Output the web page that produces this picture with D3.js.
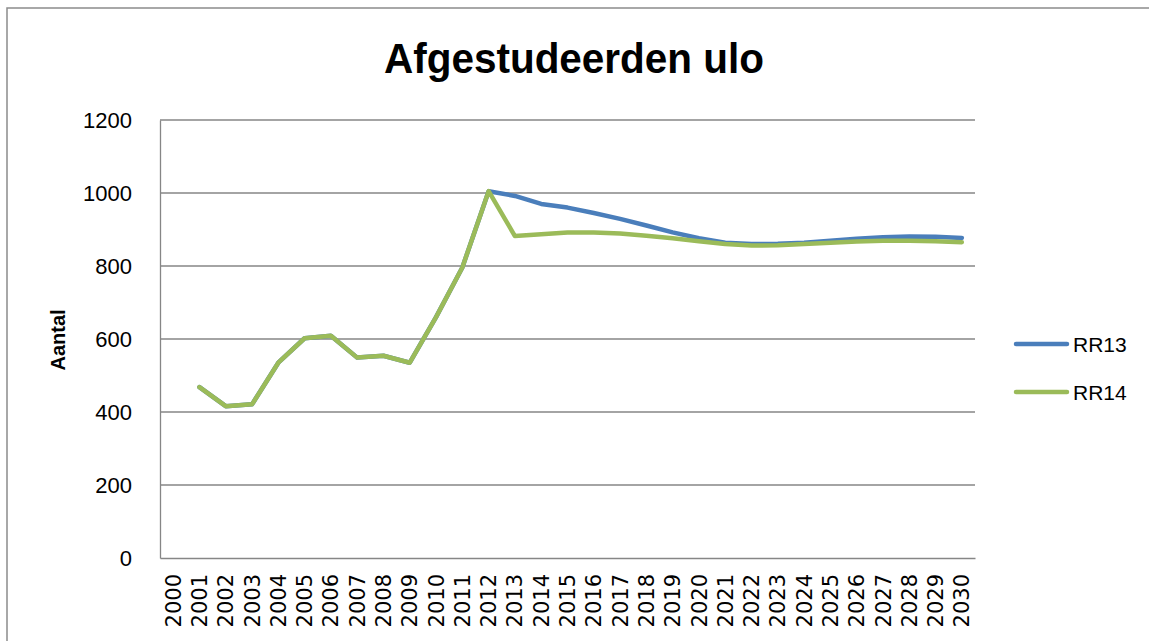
<!DOCTYPE html>
<html>
<head>
<meta charset="utf-8">
<script src="https://cdn.jsdelivr.net/npm/d3@7"></script>
<style>
  html, body { margin: 0; padding: 0; background: #fff; }
  svg { display: block; }
</style>
</head>
<body>
<svg id="chart" width="1149" height="641"></svg>
<script>
const years = d3.range(2000, 2031).map(String);
const yTicks = [0, 200, 400, 600, 800, 1000, 1200];
const seriesNames = ["RR13", "RR14"];
const rr13 = [null, 468, 416, 421, 535, 602, 609, 549, 554, 535, 660, 796, 1005,
  992, 970, 960, 945, 929, 911, 892, 876, 864, 860, 861, 864, 869, 875, 879, 881, 880, 877];
const rr14 = [null, 468, 416, 421, 535, 602, 609, 549, 554, 535, 660, 796, 1005,
  882, 887, 892, 892, 889, 883, 876, 868, 860, 856, 857, 860, 864, 867, 869, 869, 868, 865];
const colors = ["#4a7ebb", "#9bbb59"];

const svg = d3.select("#chart");
const plot = { left: 160, right: 975, top: 120, bottom: 558 };

// outer border
svg.append("rect").attr("x", 7).attr("y", 8).attr("width", 1300).attr("height", 1000)
  .attr("fill", "none").attr("stroke", "#8c8c8c").attr("stroke-width", 1.5);

const x = d3.scaleBand().domain(years).range([plot.left, plot.right]).padding(0);
const y = d3.scaleLinear().domain([0, 1200]).range([plot.bottom, plot.top]);

// gridlines
svg.append("g").selectAll("line").data(yTicks.filter(d => d > 0)).join("line")
  .attr("x1", plot.left).attr("x2", plot.right)
  .attr("y1", d => y(d)).attr("y2", d => y(d))
  .attr("stroke", "#868686").attr("stroke-width", 1.3);

// y axis
const yAxis = svg.append("g").attr("transform", `translate(${plot.left},0)`)
  .call(d3.axisLeft(y).tickValues(yTicks).tickFormat(d3.format("d")).tickSize(0).tickPadding(28));
yAxis.select(".domain").attr("stroke", "#868686").attr("stroke-width", 1.3);
yAxis.selectAll("text").attr("font-family", "Liberation Sans, Arial, sans-serif")
  .attr("font-size", 22).attr("fill", "#000").attr("dy", "0.36em");

// x axis
const xAxis = svg.append("g").attr("transform", `translate(0,${plot.bottom})`)
  .call(d3.axisBottom(x).tickSize(0));
xAxis.select(".domain").attr("stroke", "#868686").attr("stroke-width", 1.3);
xAxis.selectAll("text")
  .attr("font-family", "DejaVu Sans, sans-serif").attr("font-size", 21).attr("fill", "#000")
  .attr("transform", "rotate(-90)")
  .attr("text-anchor", "end")
  .attr("x", -16).attr("y", 0).attr("dy", "0.36em");

// lines
const line = d3.line()
  .defined(d => d.v !== null)
  .x(d => x(d.year) + x.bandwidth() / 2)
  .y(d => y(d.v));

[rr13, rr14].forEach((vals, i) => {
  const data = years.map((yr, j) => ({ year: yr, v: vals[j] }));
  svg.append("path").datum(data)
    .attr("fill", "none").attr("stroke", colors[i]).attr("stroke-width", 4.5)
    .attr("stroke-linejoin", "round").attr("stroke-linecap", "round")
    .attr("d", line);
});

// title
svg.append("text").attr("x", 574).attr("y", 73).attr("text-anchor", "middle")
  .attr("font-family", "Liberation Sans, Arial, sans-serif").attr("font-weight", "bold")
  .attr("font-size", 43).attr("textLength", 380).attr("lengthAdjust", "spacingAndGlyphs")
  .attr("fill", "#000").text("Afgestudeerden ulo");

// y axis title
svg.append("text").attr("transform", "translate(65,340) rotate(-90)")
  .attr("text-anchor", "middle")
  .attr("font-family", "Liberation Sans, Arial, sans-serif").attr("font-weight", "bold")
  .attr("font-size", 20).attr("fill", "#000").text("Aantal");

// legend
const legend = svg.append("g");
seriesNames.forEach((name, i) => {
  const ly = 344 + i * 48;
  legend.append("line").attr("x1", 1016).attr("x2", 1067).attr("y1", ly).attr("y2", ly)
    .attr("stroke", colors[i]).attr("stroke-width", 4.5).attr("stroke-linecap", "round");
  legend.append("text").attr("x", 1073).attr("y", ly).attr("dy", "0.36em")
    .attr("font-family", "Liberation Sans, Arial, sans-serif").attr("font-size", 21)
    .attr("fill", "#000").text(name);
});
</script>
</body>
</html>
